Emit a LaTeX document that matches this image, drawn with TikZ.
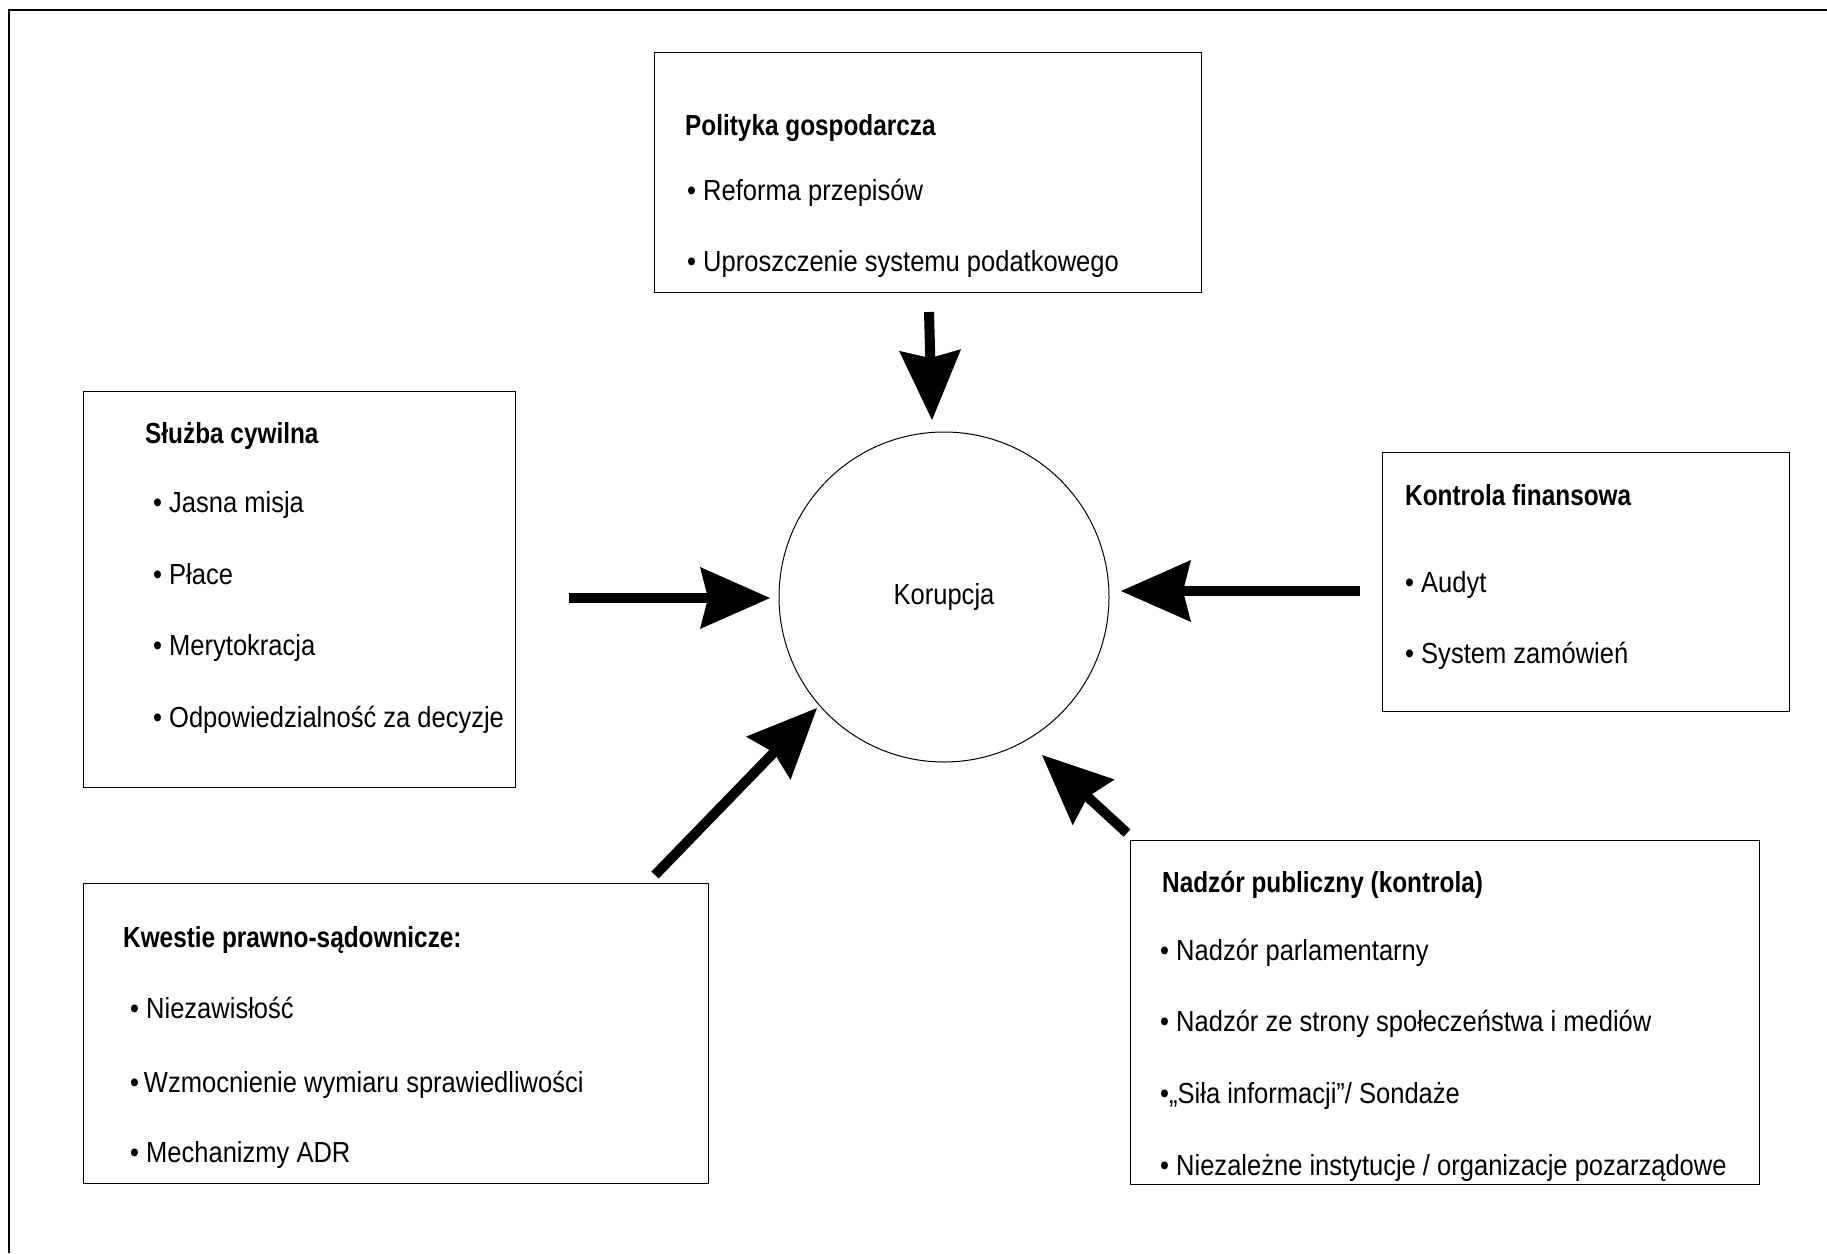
\documentclass[tikz,border=0pt]{standalone}
\usepackage{fontspec}
\setmainfont{Liberation Sans}[FakeStretch=0.88, BoldFeatures={FakeStretch=0.84}]
\usetikzlibrary{arrows.meta}
\tikzset{
  box/.style={draw, line width=1.3pt, anchor=north west, inner sep=0pt, rectangle},
  hd/.style={anchor=base west, inner sep=0pt, font=\fontsize{29}{34}\selectfont\bfseries},
  itm/.style={anchor=base west, inner sep=0pt, font=\fontsize{29}{34}\selectfont},
  bigarrow/.style={line width=10pt, -{Stealth[length=70pt, width=62pt, inset=8pt, line width=0pt]}},
  frameline/.style={line width=1.4pt}
}
\begin{document}
\begin{tikzpicture}[x=1pt,y=-1pt]
\useasboundingbox (0,0) rectangle (1827,1253);
% outer frame
\coordinate (fbl) at (9,1253);
\coordinate (ftl) at (9,10);
\coordinate (ftr) at (1827,10);
\draw[frameline] (fbl) -- (ftl) -- (ftr);

% centre
\node[draw, circle, minimum size=330pt, line width=1pt, inner sep=0pt,
      font=\fontsize{29}{34}\selectfont] (kor) at (944,597) {Korupcja};

% top box
\node[box, minimum width=547pt, minimum height=240pt] (pol) at (654,52) {};
\node[hd] (pol0) at (685,135) {Polityka gospodarcza};
\node[itm] (pol1) at (687,200) {• Reforma przepisów};
\node[itm] (pol2) at (687,271) {• Uproszczenie systemu podatkowego};

% left box
\node[box, minimum width=432pt, minimum height=396pt] (sc) at (83,391) {};
\node[hd] (sc0) at (145,443) {Służba cywilna};
\node[itm] (sc1) at (153,512) {• Jasna misja};
\node[itm] (sc2) at (153,584) {• Płace};
\node[itm] (sc3) at (153,655) {• Merytokracja};
\node[itm] (sc4) at (153,727) {• Odpowiedzialność za decyzje};

% right box
\node[box, minimum width=407pt, minimum height=259pt] (kf) at (1382,452) {};
\node[hd] (kf0) at (1405,505) {Kontrola finansowa};
\node[itm] (kf1) at (1405,592) {• Audyt};
\node[itm] (kf2) at (1405,663) {• System zamówień};

% bottom-left box
\node[box, minimum width=625pt, minimum height=300pt] (kw) at (83,883) {};
\node[hd] (kw0) at (123,947) {Kwestie prawno-sądownicze:};
\node[itm] (kw1) at (130,1018) {• Niezawisłość};
\node[itm] (kw2) at (130,1092) {•\,Wzmocnienie wymiaru sprawiedliwości};
\node[itm] (kw3) at (130,1162) {• Mechanizmy ADR};

% bottom-right box
\node[box, minimum width=629pt, minimum height=344pt] (np) at (1130,840) {};
\node[hd] (np0) at (1162,892) {Nadzór publiczny (kontrola)};
\node[itm] (np1) at (1160,960) {• Nadzór parlamentarny};
\node[itm] (np2) at (1160,1031) {• Nadzór ze strony społeczeństwa i mediów};
\node[itm] (np3) at (1160,1103) {•„Siła informacji"/ Sondaże};
\node[itm] (np4) at (1160,1175) {• Niezależne instytucje / organizacje pozarządowe};

% arrows
\coordinate (a1s) at (929,312); \coordinate (a1e) at (932,420);
\coordinate (a2s) at (569,598); \coordinate (a2e) at (770,598);
\coordinate (a3s) at (1360,591); \coordinate (a3e) at (1121,591);
\coordinate (a4s) at (655,875); \coordinate (a4e) at (817,708);
\coordinate (a5s) at (1127,833); \coordinate (a5e) at (1042,755);
\draw[bigarrow] (a1s) -- (a1e);
\draw[bigarrow] (a2s) -- (a2e);
\draw[bigarrow] (a3s) -- (a3e);
\draw[bigarrow] (a4s) -- (a4e);
\draw[bigarrow] (a5s) -- (a5e);
\end{tikzpicture}
\end{document}
